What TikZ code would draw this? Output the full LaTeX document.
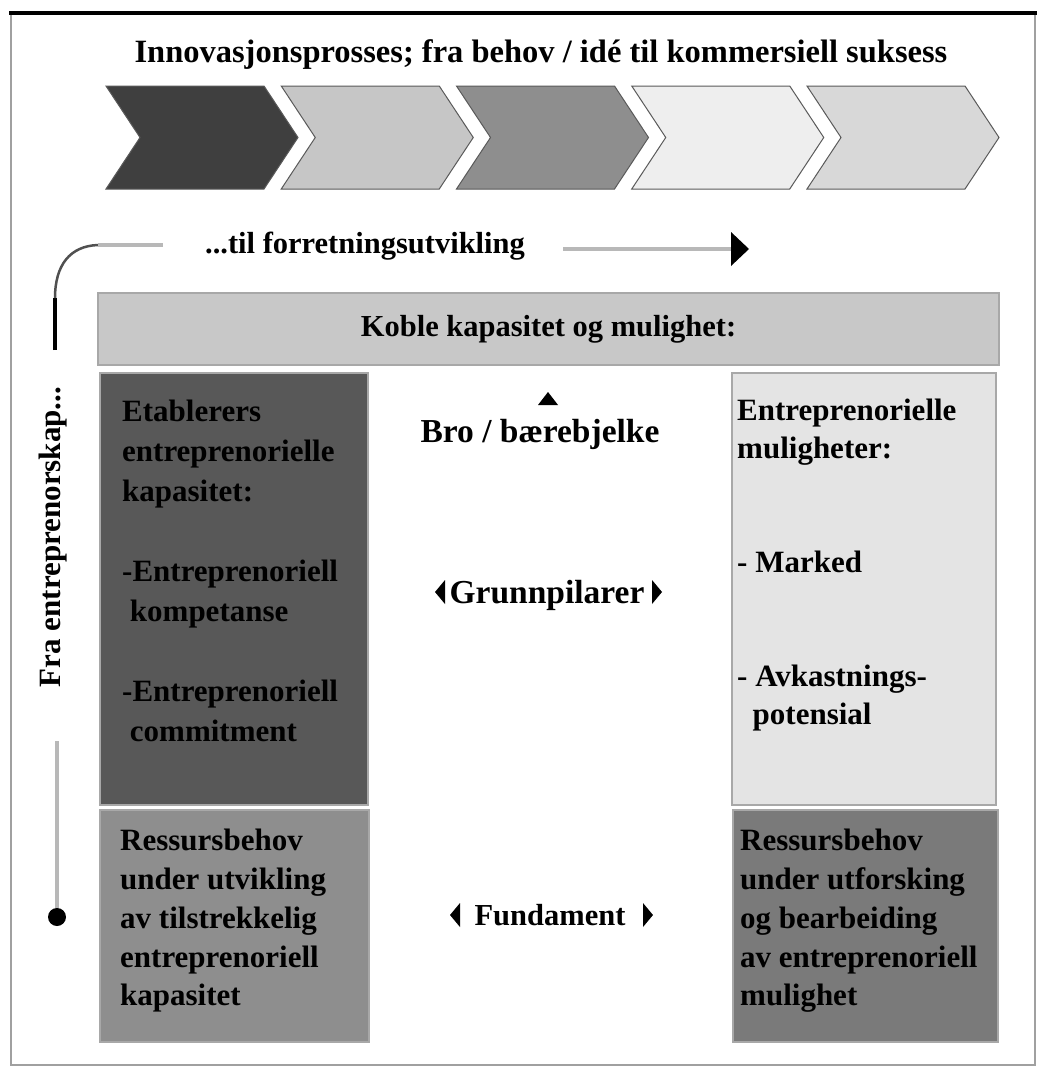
\documentclass[tikz,border=0pt]{standalone}
\usepackage{fontspec}
\setmainfont{Liberation Serif}
\usetikzlibrary{calc}

\definecolor{chevA}{HTML}{3F3F3F}
\definecolor{chevB}{HTML}{C6C6C6}
\definecolor{chevC}{HTML}{8E8E8E}
\definecolor{chevD}{HTML}{EEEEEE}
\definecolor{chevE}{HTML}{D8D8D8}
\definecolor{chevedge}{HTML}{5A5A5A}
\definecolor{barfill}{HTML}{C8C8C8}
\definecolor{capfill}{HTML}{585858}
\definecolor{oppfill}{HTML}{E4E4E4}
\definecolor{resLfill}{HTML}{8E8E8E}
\definecolor{resRfill}{HTML}{7A7A7A}
\definecolor{paneledge}{HTML}{A8A8A8}
\definecolor{trackgray}{HTML}{B8B8B8}
\definecolor{curvegray}{HTML}{505050}
\definecolor{framegray}{HTML}{A0A0A0}

\begin{document}
\begin{tikzpicture}[x=1pt,y=-1pt,
  chevron/.style={draw=chevedge, line width=1pt, line join=miter},
  panel/.style={draw=paneledge, line width=1.5pt, anchor=north west,
                inner sep=0pt, outer sep=0pt},
  boldtxt/.style={font=\bfseries\fontsize{#1}{#1}\selectfont, inner sep=0pt},
  paneltxt/.style={font=\bfseries\fontsize{31}{#1}\selectfont, align=left,
                   anchor=north west, inner sep=0pt},
  trackline/.style={draw=trackgray, line width=4.5pt},
  pointer/.style={fill=black}
]
\useasboundingbox (0,0) rectangle (1038,1068);
\fill[white] (0,0) rectangle (1038,1068);

% outer frame with heavy top rule
\draw[framegray, line width=1.2pt] (11,14) rectangle (1035,1065);
\draw[black, line width=4pt] (9,13) -- (1037,13);

% heading
\node[boldtxt=32.5, anchor=base] (title) at (541,62)
  {Innovasjonsprosses; fra behov / idé til kommersiell suksess};

% process chevrons
\foreach \i/\c in {0/chevA,1/chevB,2/chevC,3/chevD,4/chevE}{
  \pgfmathsetmacro\L{106+175.25*\i}
  \draw[chevron, fill=\c] (\L,86) -- ++(158,0) -- ++(34,51.5) -- ++(-34,51.5)
        -- ++(-158,0) -- ++(34,-51.5) -- cycle;
}

% track from the dot, up the left side, round the corner and to the right
\coordinate (t0) at (57,741);
\coordinate (t1) at (57,917);
\draw[trackline] (t1) -- (t0);
\node[circle, fill=black, minimum size=18pt, inner sep=0pt] (dot) at (t1) {};
\node[boldtxt=31, rotate=90, anchor=base] (fra) at (60,537) {Fra entreprenorskap...};
\coordinate (c0) at (55,350);
\coordinate (c1) at (55,298);
\coordinate (c2) at (98,245);
\coordinate (c3) at (163,245);
\draw[black, line width=4.5pt] (c0) -- (c1);
\draw[curvegray, line width=2.5pt] (c1) .. controls (55,265) and (70,246) .. (c2);
\draw[trackline] (c2) -- (c3);
\node[boldtxt=30.5, anchor=base] (forr) at (365,253) {...til forretningsutvikling};
\coordinate (r0) at (563,249);
\coordinate (r1) at (731,249);
\draw[trackline] (r0) -- (r1);
\fill[pointer] ($(r1)+(0,-17)$) -- ($(r1)+(18,0)$) -- ($(r1)+(0,17)$) -- cycle;

% linking bar
\node[panel, fill=barfill, minimum width=901pt, minimum height=72pt,
      font=\bfseries\fontsize{30.5}{30.5}\selectfont] (bar) at (98,293)
  {Koble kapasitet og mulighet:};

% capacity panel
\node[panel, fill=capfill, minimum width=268pt, minimum height=432pt] (cap) at (100,373) {};
\node[paneltxt=40] (captxt) at ($(cap.north west)+(22,27)$)
  {Etablerers\\entreprenorielle\\kapasitet:\\[40pt]-Entreprenoriell\\ \ kompetanse\\[40pt]-Entreprenoriell\\ \ commitment};

% opportunity panel
\node[panel, fill=oppfill, minimum width=264pt, minimum height=432pt] (opp) at (732,373) {};
\node[paneltxt=38] (opptxt) at ($(opp.north west)+(5,26)$)
  {Entreprenorielle\\muligheter:\\[76pt]- Marked\\[76pt]- Avkastnings-\\ \ \ potensial};

% resource panels
\node[panel, fill=resLfill, minimum width=269pt, minimum height=232pt] (resl) at (100,810) {};
\node[paneltxt=38.8] (resltxt) at ($(resl.north west)+(20,19)$)
  {Ressursbehov\\under utvikling\\av tilstrekkelig\\entreprenoriell\\kapasitet};
\node[panel, fill=resRfill, minimum width=265pt, minimum height=232pt] (resr) at (733,810) {};
\node[paneltxt=38.8] (resrtxt) at ($(resr.north west)+(7,19)$)
  {Ressursbehov\\under utforsking\\og bearbeiding\\av entreprenoriell\\mulighet};

% middle column labels
\node[boldtxt=33.5, anchor=base] (bro) at (540,442) {Bro / bærebjelke};
\fill[pointer] (538,405) -- (548,392) -- (558,405) -- cycle;
\node[boldtxt=33.5, anchor=base] (grunn) at (547,603) {Grunnpilarer};
\fill[pointer] (445,580) -- (435,592) -- (445,604) -- cycle;
\fill[pointer] (652,580) -- (662,592) -- (652,604) -- cycle;
\node[boldtxt=30.5, anchor=base] (fund) at (550,925) {Fundament};
\fill[pointer] (460,903) -- (450,915) -- (460,927) -- cycle;
\fill[pointer] (643,903) -- (653,915) -- (643,927) -- cycle;
\end{tikzpicture}
\end{document}
